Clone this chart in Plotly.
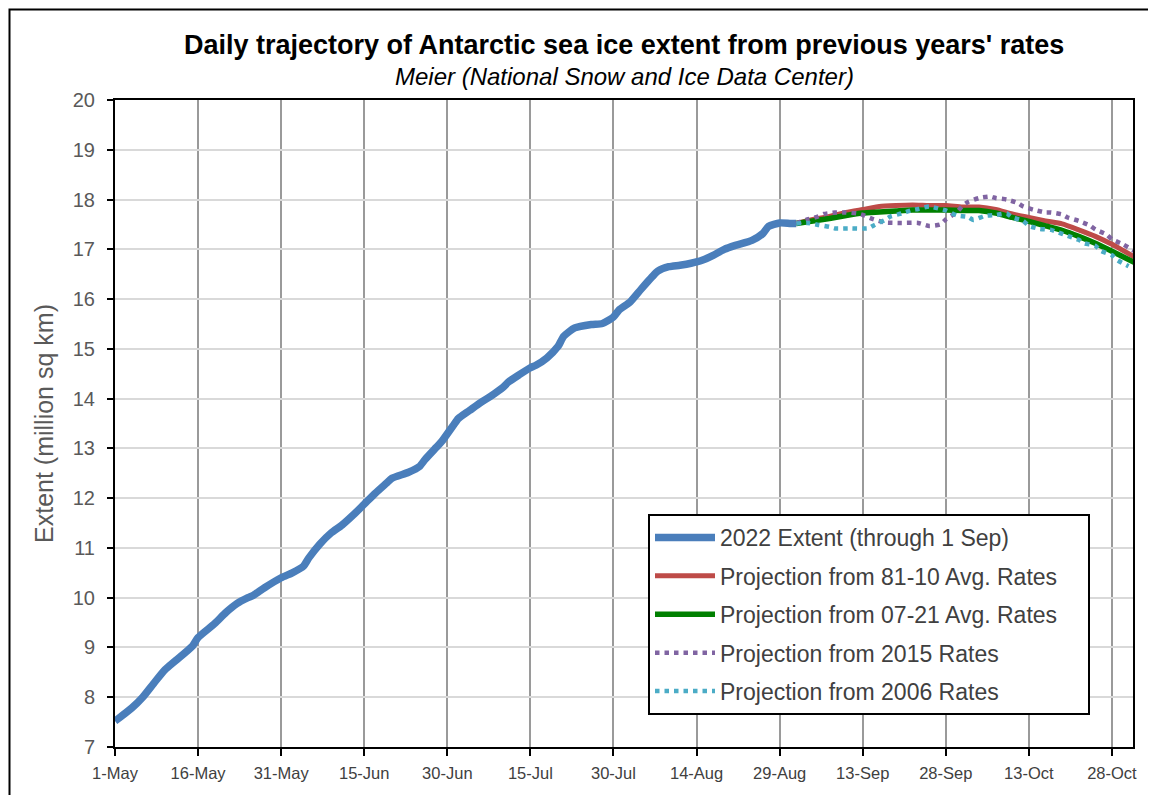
import pandas as pd
import plotly.graph_objects as go

BASE = pd.Timestamp("2022-05-01")

# ---- data: days after 1 May 2022, extent in million sq km ----
ext_days = [0, 3, 5, 7, 9, 11, 14, 15, 18, 20, 22, 24, 25, 27, 30, 32, 34, 35, 37, 39,
            41, 43, 45, 47, 49, 50, 53, 55, 56, 58, 59, 61, 62, 64, 66, 68, 70, 71, 73, 75,
            76, 78, 80, 81, 83, 86, 88, 90, 91, 93, 95, 97, 98, 100, 102, 104, 106, 108, 110, 112,
            115, 117, 118, 120, 122, 123]
ext_vals = [7.52, 7.78, 8.00, 8.28, 8.55, 8.74, 9.03, 9.20, 9.48, 9.70, 9.88, 10.00, 10.05, 10.20, 10.40, 10.50, 10.63, 10.80, 11.08, 11.30,
            11.46, 11.66, 11.88, 12.10, 12.30, 12.40, 12.52, 12.64, 12.78, 13.02, 13.14, 13.45, 13.60, 13.76, 13.92, 14.06, 14.22, 14.33, 14.48, 14.62,
            14.67, 14.82, 15.05, 15.25, 15.42, 15.49, 15.51, 15.64, 15.78, 15.94, 16.20, 16.45, 16.56, 16.65, 16.68, 16.72, 16.78, 16.88, 17.00, 17.08,
            17.18, 17.32, 17.46, 17.53, 17.52, 17.52]

avg8110_days = [123, 126, 129, 132, 135, 138, 141, 144, 147, 150, 153, 156, 159, 162, 165, 168, 171, 174, 177, 180, 184]
avg8110_vals = [17.52, 17.60, 17.66, 17.74, 17.80, 17.86, 17.88, 17.89, 17.88, 17.88, 17.85, 17.85, 17.80, 17.71, 17.64, 17.57, 17.51, 17.39, 17.26, 17.10, 16.85]

avg0721_days = [123, 126, 129, 132, 135, 138, 141, 144, 147, 150, 153, 156, 159, 162, 165, 168, 171, 174, 177, 180, 184]
avg0721_vals = [17.52, 17.57, 17.62, 17.68, 17.73, 17.75, 17.77, 17.79, 17.79, 17.79, 17.78, 17.78, 17.73, 17.64, 17.56, 17.47, 17.38, 17.26, 17.12, 16.96, 16.74]

y2015_days = [123, 125, 127, 128, 130, 132, 134, 135, 137, 139, 142, 145, 147, 149, 150, 152, 153, 154, 156, 158,
              159, 161, 163, 164, 166, 168, 169, 171, 172, 174, 176, 177, 179, 180, 182, 184]
y2015_vals = [17.52, 17.60, 17.66, 17.71, 17.74, 17.74, 17.72, 17.69, 17.60, 17.54, 17.53, 17.53, 17.47, 17.50, 17.60, 17.75, 17.87, 17.95, 18.03, 18.06,
              18.03, 18.00, 17.93, 17.86, 17.79, 17.74, 17.74, 17.70, 17.64, 17.57, 17.48, 17.40, 17.30, 17.20, 17.10, 16.97]

y2006_days = [123, 125, 127, 129, 130, 133, 136, 137, 139, 140, 142, 144, 145, 147, 149, 150, 152, 154, 155, 157,
              159, 161, 162, 164, 165, 167, 169, 170, 172, 174, 175, 177, 178, 180, 181, 183]
y2006_vals = [17.52, 17.53, 17.49, 17.45, 17.42, 17.42, 17.42, 17.48, 17.59, 17.66, 17.72, 17.79, 17.81, 17.86, 17.81, 17.78, 17.68, 17.65, 17.59, 17.67,
              17.69, 17.72, 17.64, 17.57, 17.47, 17.41, 17.39, 17.35, 17.27, 17.19, 17.12, 17.07, 16.97, 16.88, 16.78, 16.66]

tick_labels = ["1-May", "16-May", "31-May", "15-Jun", "30-Jun", "15-Jul", "30-Jul",
               "14-Aug", "29-Aug", "13-Sep", "28-Sep", "13-Oct", "28-Oct"]
tick_days = [0, 15, 30, 45, 60, 75, 90, 105, 120, 135, 150, 165, 180]


def to_dates(days):
    return [BASE + pd.Timedelta(days=d) for d in days]


NB = "\u00a0"
fig = go.Figure()
fig.add_trace(go.Scatter(x=to_dates(ext_days), y=ext_vals, mode="lines",
                         name="2022 Extent (through 1 Sep)",
                         line=dict(color="#4A7EBB", width=7.5, shape="spline", smoothing=0.6),
                         legendgroup="a"))
fig.add_trace(go.Scatter(x=to_dates(avg8110_days), y=avg8110_vals, mode="lines",
                         name="Projection from 81-10 Avg. Rates",
                         line=dict(color="#BE4B48", width=5, shape="spline", smoothing=0.5),
                         legendgroup="b"))
fig.add_trace(go.Scatter(x=to_dates(avg0721_days), y=avg0721_vals, mode="lines",
                         name="Projection from 07-21 Avg. Rates" + NB * 4,
                         line=dict(color="#008000", width=5.5, shape="spline", smoothing=0.5),
                         legendgroup="c"))
fig.add_trace(go.Scatter(x=to_dates(y2015_days), y=y2015_vals, mode="lines",
                         name="Projection from 2015 Rates",
                         line=dict(color="#8064A2", width=4.5, dash="4.5px,5px", shape="spline", smoothing=0.5),
                         legendgroup="d"))
fig.add_trace(go.Scatter(x=to_dates(y2006_days), y=y2006_vals, mode="lines",
                         name="Projection from 2006 Rates",
                         line=dict(color="#4BACC6", width=4.5, dash="4.5px,5px", shape="spline", smoothing=0.5),
                         legendgroup="e"))

# the page adds an 8px body margin, so figure coords = page coords - 8
OFF = 8
W, H = 1156, 795
PL, PR, PT, PB = 115, 1133, 100, 747          # plot area in page pixels
L, R, T, B = PL - OFF, W - (PR - OFF), PT - OFF, H - (PB - OFF)
pw, ph = PR - PL, PB - PT


def px(x):
    return (x - PL) / pw


def py(y):
    return (PB - y) / ph


fig.update_layout(
    width=W, height=H,
    margin=dict(l=L, r=R, t=T, b=B),
    paper_bgcolor="white", plot_bgcolor="white",
    font=dict(family="Liberation Sans, Arial, sans-serif", color="#404040"),
    showlegend=True,
    legend=dict(
        x=px(648), y=py(514), xanchor="left", yanchor="top",
        bgcolor="white", bordercolor="black", borderwidth=2,
        font=dict(size=23, color="#404040"),
        itemwidth=60, traceorder="grouped", tracegroupgap=5.5,
    ),
    annotations=[
        dict(text="<b>Daily trajectory of Antarctic sea ice extent from previous years' rates</b>",
             xref="paper", yref="paper", x=0.5, y=py(45), xanchor="center", yanchor="middle",
             showarrow=False, font=dict(size=27, color="black")),
        dict(text="<i>Meier (National Snow and Ice Data Center)</i>",
             xref="paper", yref="paper", x=0.5, y=py(77), xanchor="center", yanchor="middle",
             showarrow=False, font=dict(size=24, color="black")),
    ],
    shapes=[
        dict(type="rect", xref="paper", yref="paper",
             x0=px(OFF + 1.5), x1=px(W + 30), y0=py(H + 30), y1=py(OFF + 1.5),
             line=dict(color="black", width=2), fillcolor="rgba(0,0,0,0)", layer="above"),
    ],
)

fig.update_xaxes(
    type="date",
    range=[BASE, BASE + pd.Timedelta(days=183.8)],
    tickvals=to_dates(tick_days), ticktext=tick_labels,
    tickfont=dict(size=16.5, color="#404040"),
    ticklabelstandoff=3,
    showgrid=True, gridcolor="#9a9a9a", gridwidth=2,
    showline=True, linecolor="black", linewidth=2, mirror=True,
    ticks="outside", ticklen=7, tickwidth=2, tickcolor="black",
    zeroline=False,
)
fig.update_yaxes(
    range=[7, 20], dtick=1, tick0=7,
    tickfont=dict(size=20, color="#595959"),
    ticklabelstandoff=8,
    title=dict(text="Extent (million sq km)", font=dict(size=25, color="#595959"), standoff=12),
    showgrid=True, gridcolor="#d9d9d9", gridwidth=2,
    showline=True, linecolor="black", linewidth=2, mirror=True,
    ticks="outside", ticklen=6, tickwidth=2, tickcolor="black",
    zeroline=False,
)

fig.write_html("out.html")
